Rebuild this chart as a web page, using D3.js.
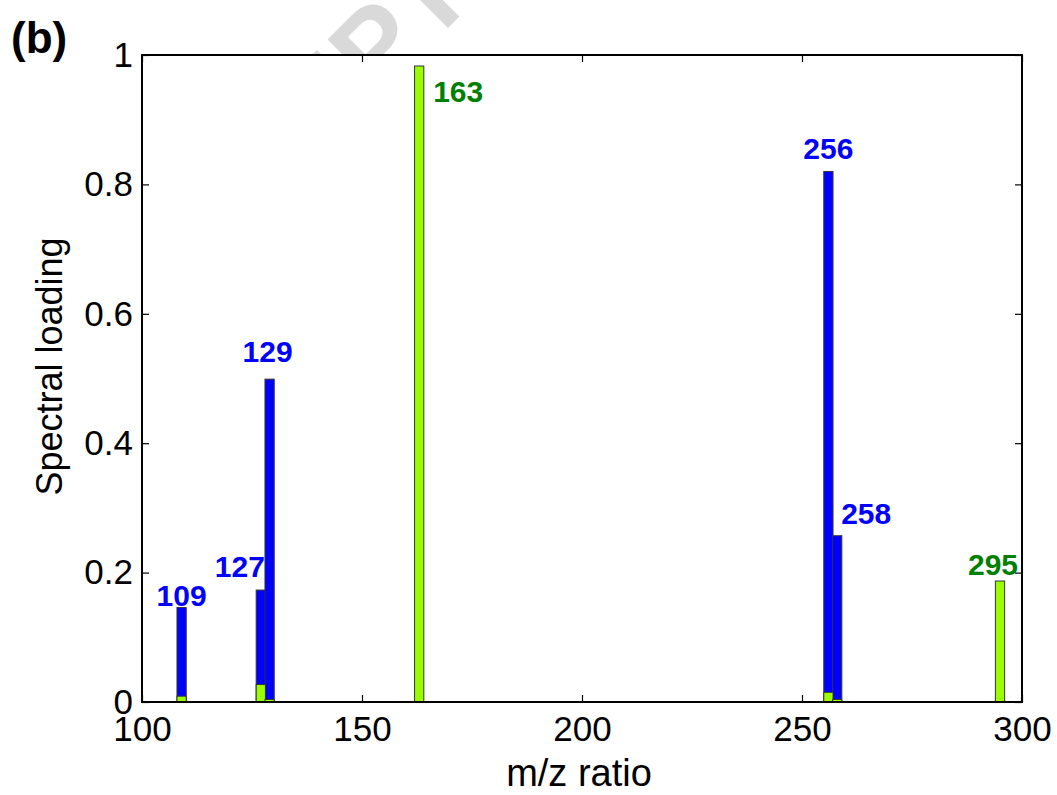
<!DOCTYPE html>
<html>
<head>
<meta charset="utf-8">
<script src="https://cdn.jsdelivr.net/npm/d3@7"></script>
<style>
  body { margin: 0; background: #fff; }
  svg text { font-family: Arial, "Liberation Sans", sans-serif; }
</style>
</head>
<body>
<div id="chart"></div>
<script>
// peaks (m/z) and the two loading spectra
var mz = [109, 127, 129, 163, 256, 258, 295];
var blueLoading = [0.146, 0.173, 0.499, 0, 0.82, 0.257, 0];
var greenLoading = [0.009, 0.027, 0.004, 0.983, 0.015, 0.004, 0.187];
var peakLabels = ["109", "127", "129", "163", "256", "258", "295"];
var peakSeries = ["blue", "blue", "blue", "green", "blue", "blue", "green"];
var xTicks = [100, 150, 200, 250, 300];
var yTicks = [0, 0.2, 0.4, 0.6, 0.8, 1];

// label placement relative to the top of the labelled bar (px)
var labelPlace = [
  {dx: 0, dy: -2, anchor: "middle"},
  {dx: -21, dy: -13, anchor: "middle"},
  {dx: -2, dy: -17, anchor: "middle"},
  {dx: 14, dy: 36, anchor: "start"},
  {dx: 0, dy: -12, anchor: "middle"},
  {dx: 4, dy: -12, anchor: "start"},
  {dx: -7, dy: -6, anchor: "middle"}
];

(function() {
  var W = 1057, H = 795;
  var pl = 142, pr = 1022, pt = 55, pb = 702;

  var svg = d3.select("#chart").append("svg")
      .attr("width", W)
      .attr("height", H);

  var x = d3.scaleLinear().domain([100, 300]).range([pl, pr]);
  var y = d3.scaleLinear().domain([0, 1]).range([pb, pt]);
  var barW = x(102.1) - x(100);

  var colors = {blue: "#0000ff", green: "#99ff00"};
  var labelColors = {blue: "#0000ff", green: "#008000"};

  // faint page watermark, only showing above the axes
  svg.append("clipPath").attr("id", "wm-clip")
    .append("rect").attr("x", 150).attr("y", 0).attr("width", 400).attr("height", pt);
  svg.append("g")
      .attr("clip-path", "url(#wm-clip)")
    .append("text")
      .attr("transform", "translate(478,-2) rotate(-45)")
      .attr("text-anchor", "end")
      .attr("font-size", 112)
      .attr("font-weight", "bold")
      .attr("fill", "#d9d9d9")
      .text("ACCEPTED MANUSCRIPT");

  svg.append("rect")
      .attr("x", pl).attr("y", pt)
      .attr("width", pr - pl).attr("height", pb - pt)
      .attr("fill", "#fff");

  var blueBars = mz.map(function(m, i) { return {mz: m, v: blueLoading[i]}; })
      .filter(function(d) { return d.v > 0; });
  var greenBars = mz.map(function(m, i) { return {mz: m, v: greenLoading[i]}; })
      .filter(function(d) { return d.v > 0; });

  function drawBars(data, fill, cls) {
    svg.append("g").attr("class", cls)
      .selectAll("rect")
      .data(data)
      .enter().append("rect")
        .attr("x", function(d) { return x(d.mz) - barW / 2; })
        .attr("y", function(d) { return y(d.v); })
        .attr("width", barW)
        .attr("height", function(d) { return y(0) - y(d.v); })
        .attr("fill", fill)
        .attr("stroke", "#333")
        .attr("stroke-width", 1);
  }
  drawBars(blueBars, colors.blue, "blue-bars");
  drawBars(greenBars, colors.green, "green-bars");

  // peak labels
  svg.append("g").selectAll("text")
    .data(mz)
    .enter().append("text")
      .attr("x", function(m, i) { return x(m) + labelPlace[i].dx; })
      .attr("y", function(m, i) {
        var v = Math.max(blueLoading[i], greenLoading[i]);
        return y(v) + labelPlace[i].dy;
      })
      .attr("text-anchor", function(m, i) { return labelPlace[i].anchor; })
      .attr("font-size", 30)
      .attr("font-weight", "bold")
      .attr("fill", function(m, i) { return labelColors[peakSeries[i]]; })
      .text(function(m, i) { return peakLabels[i]; });

  // axes box with inward ticks (matlab style)
  var tickLen = 7;
  var axes = svg.append("g");
  function styleLabels(g) {
    g.select(".domain").remove();
    g.selectAll("text").attr("font-size", 35).attr("fill", "#000")
      .attr("font-family", "Arial, 'Liberation Sans', sans-serif");
  }
  axes.append("g")
      .attr("transform", "translate(0," + pb + ")")
      .call(d3.axisBottom(x).tickValues(xTicks).tickSizeInner(-tickLen).tickSizeOuter(0).tickPadding(14))
      .call(styleLabels);
  axes.append("g")
      .attr("transform", "translate(0," + pt + ")")
      .call(d3.axisTop(x).tickValues(xTicks).tickSizeInner(-tickLen).tickSizeOuter(0).tickFormat(""))
      .call(function(g) { g.select(".domain").remove(); });
  axes.append("g")
      .attr("transform", "translate(" + pl + ",0)")
      .call(d3.axisLeft(y).tickValues(yTicks).tickSizeInner(-tickLen).tickSizeOuter(0).tickPadding(9)
        .tickFormat(d3.format("")))
      .call(styleLabels);
  axes.append("g")
      .attr("transform", "translate(" + pr + ",0)")
      .call(d3.axisRight(y).tickValues(yTicks).tickSizeInner(-tickLen).tickSizeOuter(0).tickFormat(""))
      .call(function(g) { g.select(".domain").remove(); });
  axes.selectAll(".tick line").attr("stroke", "#000").attr("stroke-width", 1.2);

  axes.append("rect")
      .attr("x", pl).attr("y", pt)
      .attr("width", pr - pl).attr("height", pb - pt)
      .attr("fill", "none")
      .attr("stroke", "#000")
      .attr("stroke-width", 2);

  // titles
  svg.append("text")
      .attr("x", (pl + pr) / 2 - 3)
      .attr("y", 786)
      .attr("text-anchor", "middle")
      .attr("font-size", 38)
      .text("m/z ratio");

  svg.append("text")
      .attr("transform", "translate(62," + ((pt + pb) / 2 - 12) + ") rotate(-90)")
      .attr("text-anchor", "middle")
      .attr("font-size", 36)
      .text("Spectral loading");

  svg.append("text")
      .attr("x", 11)
      .attr("y", 53)
      .attr("font-size", 44)
      .attr("font-weight", "bold")
      .text("(b)");
})();
</script>
</body>
</html>
